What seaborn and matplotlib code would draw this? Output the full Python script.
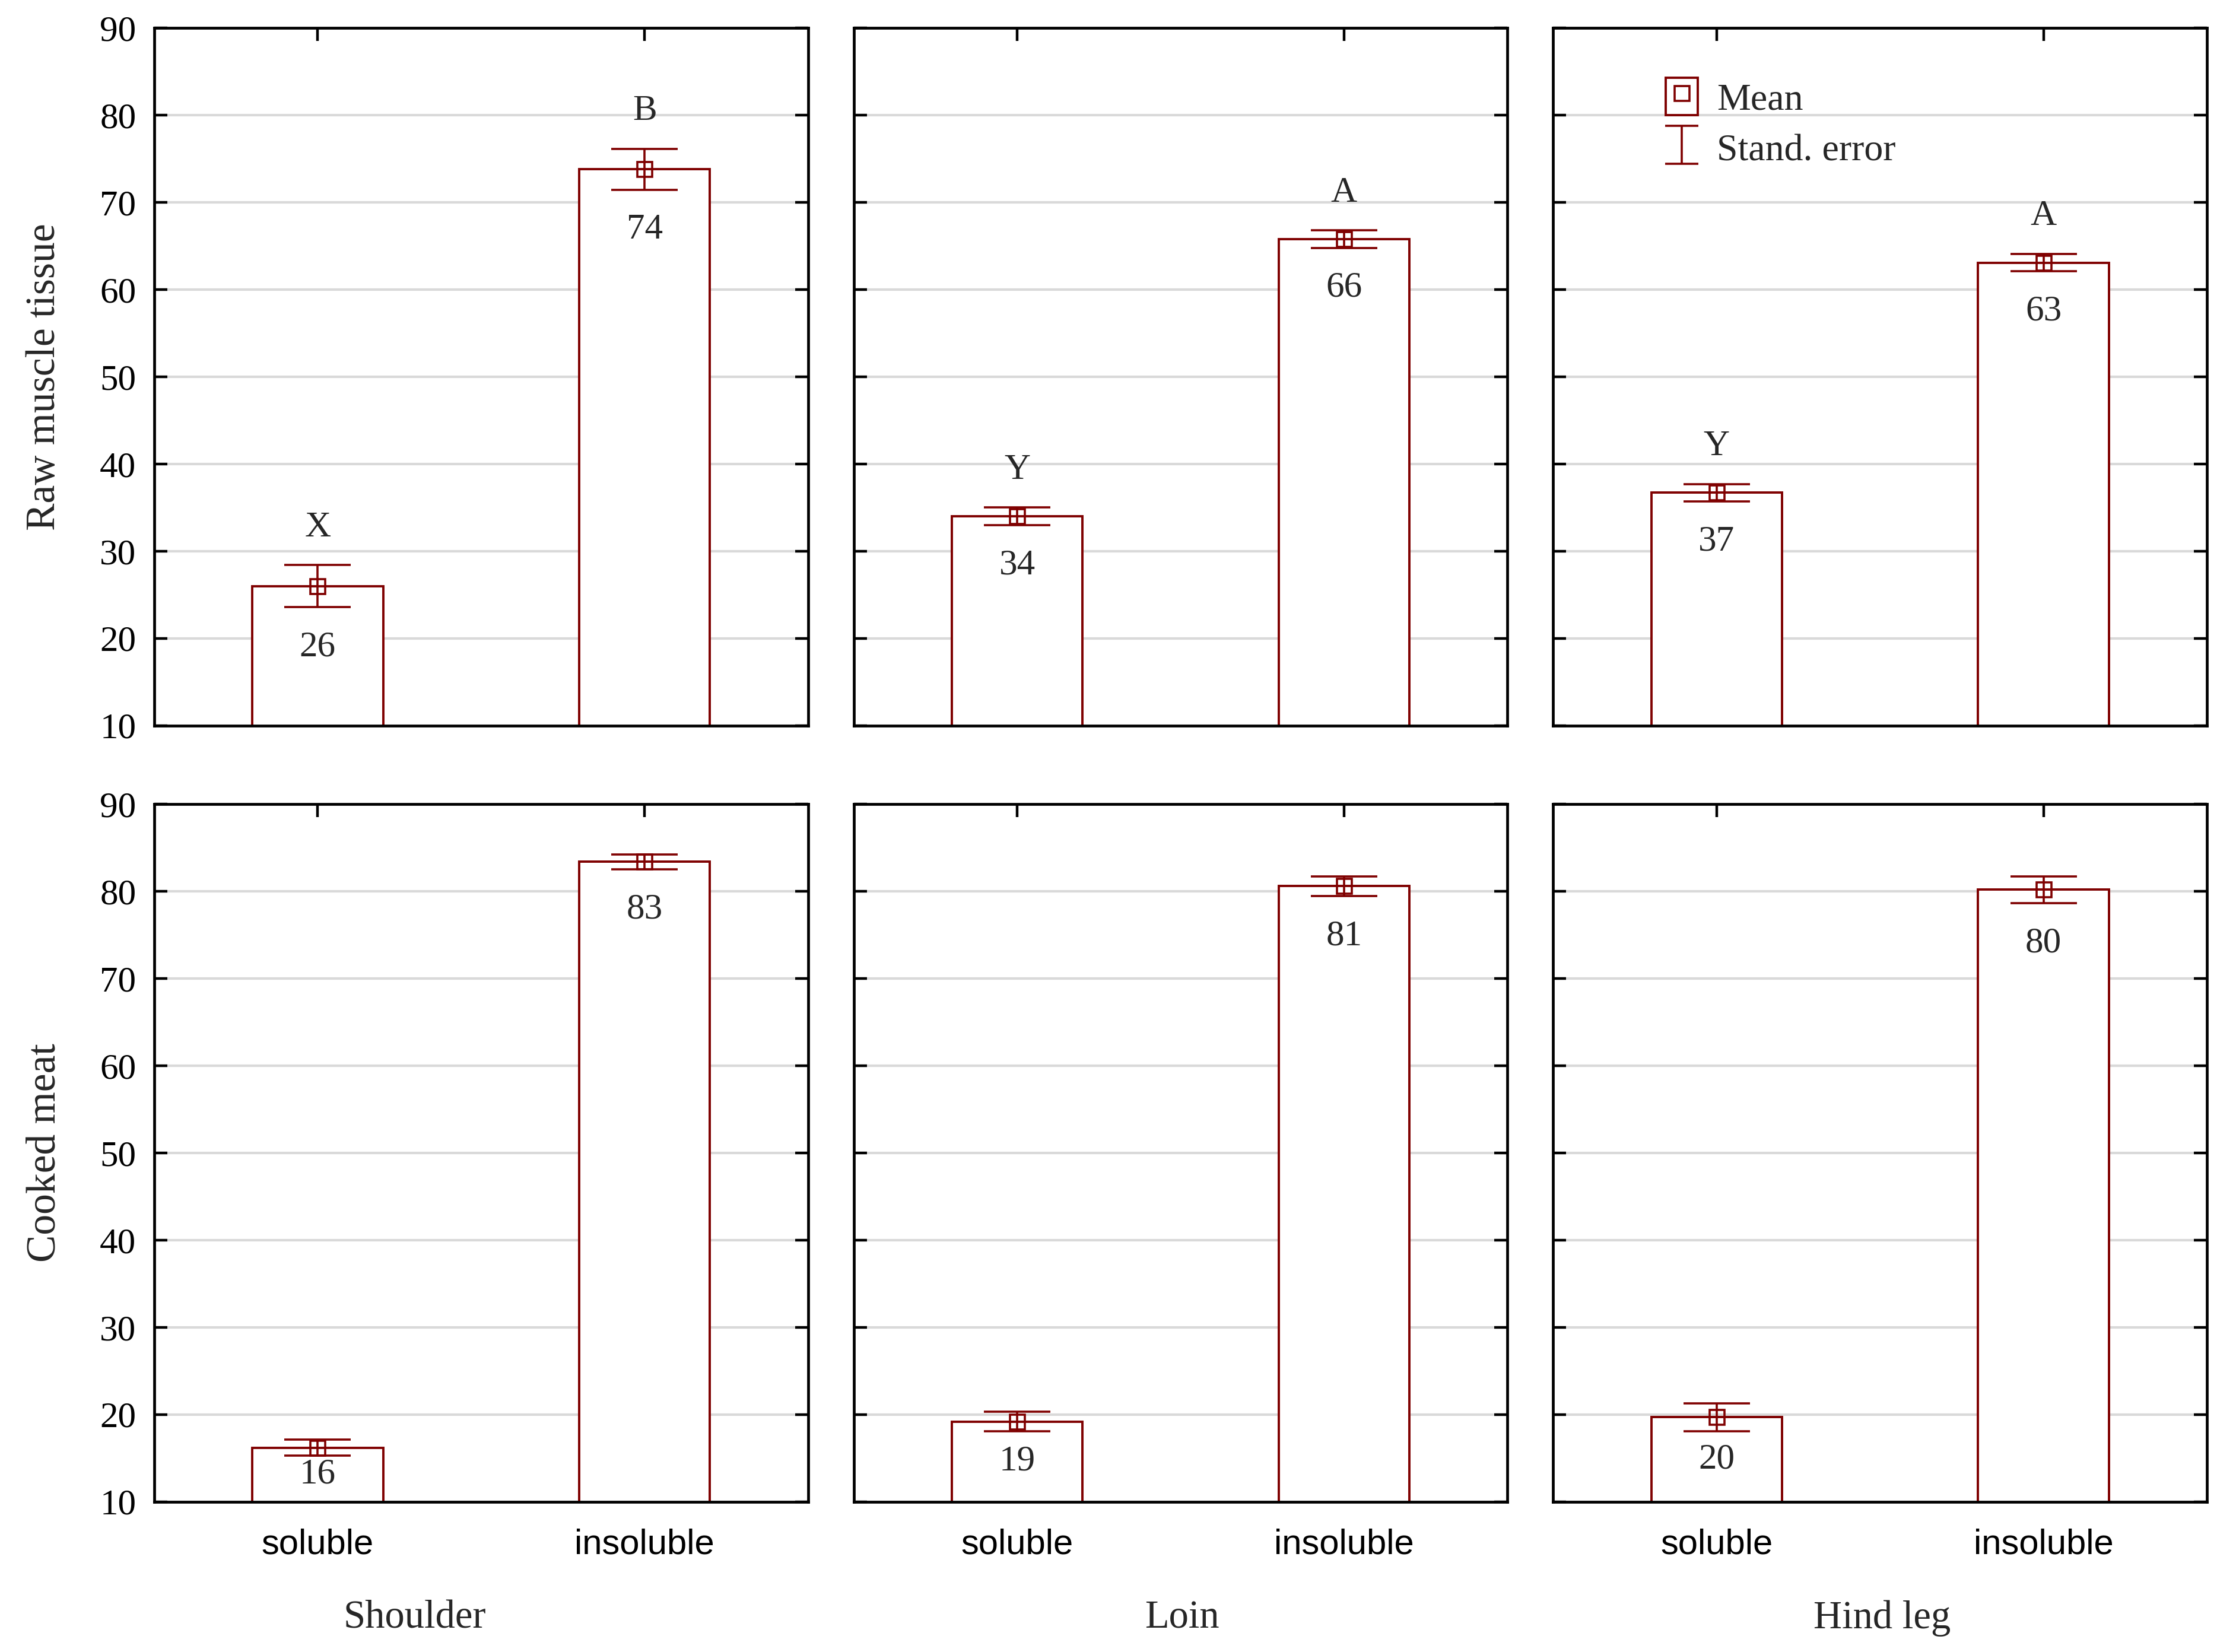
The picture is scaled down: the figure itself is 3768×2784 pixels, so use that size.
import numpy as np
import pandas as pd
import seaborn as sns
import matplotlib.pyplot as plt
from matplotlib.patches import Patch
from matplotlib.lines import Line2D

# data
cuts = ["Shoulder", "Loin", "Hind leg"]
fractions = ["soluble", "insoluble"]
rows = ["Raw muscle tissue", "Cooked meat"]

raw_mean = [[26.0, 73.8], [34.0, 65.8], [36.7, 63.1]]
raw_se = [[2.4, 2.35], [1.0, 1.0], [1.0, 1.0]]
raw_letters = [["X", "B"], ["Y", "A"], ["Y", "A"]]

cooked_mean = [[16.2, 83.4], [19.2, 80.6], [19.7, 80.2]]
cooked_se = [[0.9, 0.85], [1.15, 1.15], [1.6, 1.55]]
cooked_letters = [["", ""], ["", ""], ["", ""]]

RED = "#7f0000"
SERIF = ["Liberation Serif", "DejaVu Serif"]
SANS = ["Liberation Sans", "DejaVu Sans"]

records = []
for r, (means, ses, lets) in enumerate([(raw_mean, raw_se, raw_letters),
                                         (cooked_mean, cooked_se, cooked_letters)]):
    for c, cut in enumerate(cuts):
        for f, frac in enumerate(fractions):
            records.append(dict(row=rows[r], cut=cut, fraction=frac,
                                mean=means[c][f], se=ses[c][f], letter=lets[c][f]))
df = pd.DataFrame(records)

sns.set_theme(style="white")
plt.rcParams["font.family"] = SERIF

fig, axes = plt.subplots(2, 3, figsize=(18.84, 13.92), dpi=200, sharey=True)
fig.subplots_adjust(left=0.069, right=0.987, top=0.983, bottom=0.091,
                    wspace=0.07, hspace=0.113)

for r, row in enumerate(rows):
    for c, cut in enumerate(cuts):
        ax = axes[r, c]
        sub = df[(df["row"] == row) & (df["cut"] == cut)]
        sns.barplot(data=sub, x="fraction", y="mean", order=fractions,
                    color="white", edgecolor=RED, linewidth=1.4, width=0.4,
                    errorbar=None, saturation=1, ax=ax, zorder=2)
        xs = np.arange(len(sub))
        ax.errorbar(xs, sub["mean"], yerr=sub["se"], fmt="s", mfc="none",
                    mec=RED, ms=9, mew=1.3, color=RED, ecolor=RED,
                    elinewidth=1.3, capsize=20, capthick=1.3, zorder=3)
        for x, m, s, let in zip(xs, sub["mean"], sub["se"], sub["letter"]):
            # value sits under the lower cap, or mid-bar when the bar is short
            ylab = max(m - s - 4.6, (m + 10) / 2)
            ax.text(x, ylab, f"{round(m):d}", ha="center", va="center",
                    fontsize=22, zorder=4)
            if let:
                ax.text(x, m + s + 4.3, let, ha="center", va="center",
                        fontsize=22, zorder=4)

        ax.set_ylim(10, 90)
        ax.set_xlim(-0.5, 1.5)
        ax.set_yticks(range(10, 91, 10))
        ax.set_axisbelow(True)
        ax.yaxis.grid(True, color="#d9d9d9", lw=1.5)
        ax.xaxis.grid(False)
        for sp in ax.spines.values():
            sp.set_color("black")
            sp.set_linewidth(1.7)
            sp.set_visible(True)
        ax.tick_params(axis="both", direction="in", top=True, right=True,
                       left=True, bottom=True, length=8, width=1.6,
                       colors="black")
        ax.tick_params(axis="y", labelsize=22, pad=11)
        ax.tick_params(axis="x", labelsize=21.5, pad=16)
        ax.set_xlabel("")
        if c == 0:
            ax.set_ylabel(row, fontsize=25, labelpad=22)
        else:
            ax.set_ylabel("")
            ax.tick_params(axis="y", labelleft=False)
        if r == 0:
            ax.tick_params(axis="x", labelbottom=False)
        else:
            for lab in ax.get_xticklabels():
                lab.set_fontfamily(SANS)

# legend in the top-right panel
mean_handle = (Patch(facecolor="white", edgecolor=RED, lw=1.4),
               Line2D([], [], marker="s", ls="none", mfc="none", mec=RED,
                      ms=9, mew=1.3))
err_handle = axes[0, 2].errorbar([np.nan], [np.nan], yerr=[1.0], fmt="none",
                                 ecolor=RED, elinewidth=1.3, capsize=10,
                                 capthick=1.3)
axes[0, 2].legend([mean_handle, err_handle], ["Mean", "Stand. error"],
                  loc="upper left", bbox_to_anchor=(0.12, 0.978),
                  frameon=False, fontsize=23, handlelength=0.85,
                  handleheight=1.15, handletextpad=0.5, labelspacing=0.3)

# cut names under each column
for x, cut in zip([0.1855, 0.5287, 0.8416], cuts):
    fig.text(x, 0.0144, cut, ha="center", va="baseline", fontsize=24)

fig.savefig("out.png", dpi=200, facecolor="white")
